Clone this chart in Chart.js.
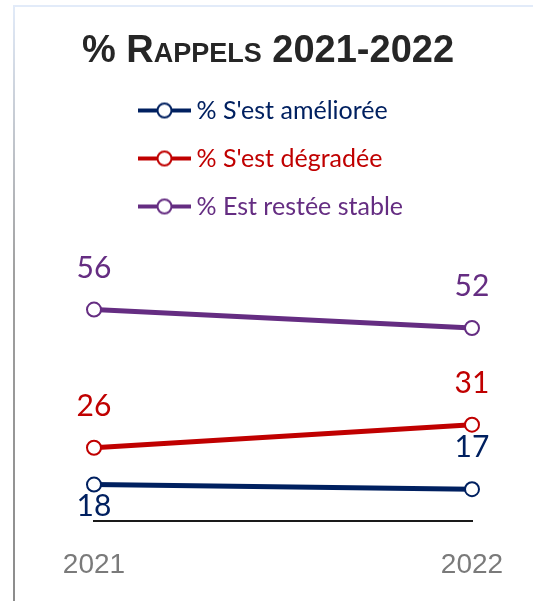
<!DOCTYPE html>
<html>
<head>
<meta charset="utf-8">
<script src="https://cdn.jsdelivr.net/npm/chart.js@4.4.1/dist/chart.umd.min.js"></script>
<style>
body { margin: 0; background: #fff; }
#cadre { position: relative; width: 533px; height: 601px; overflow: hidden; }
#cadre canvas { position: absolute; left: 0; top: 0; }
#bord { position: absolute; left: 13px; top: 5px; right: 0; bottom: 0; border-top: 2px solid #e2ebf9; }
#bord:before { content: ''; position: absolute; left: 0; top: -2px; width: 2px; bottom: 0; background: linear-gradient(#e2ebf9, #a0a0a0 45%, #8c8c8c); }
#titre { position: absolute; left: 0; top: 30px; width: 536px; text-align: center; font: bold 38px 'Liberation Sans', Arial, sans-serif; font-variant: small-caps; line-height: 38px; color: #262626; }
</style>
</head>
<body>
<div id="cadre">
    <canvas id="graphique" width="533" height="620"></canvas>
    <div id="bord"></div>
    <div id="titre">% Rappels 2021-2022</div>
</div>
<script>
// Donnees
var annees = ['2021', '2022'];
var ameliore = [18, 17];
var degrade = [26, 31];
var stable = [56, 52];
var nomsSeries = ["% S'est améliorée", "% S'est dégradée", "% Est restée stable"];
var couleurs = ['#002060', '#C00000', '#652D82'];

// Petit dessin ligne + rond pour la legende
function marqueur(couleur) {
    var c = document.createElement('canvas');
    c.width = 81;
    c.height = 20;
    var g = c.getContext('2d');
    g.strokeStyle = couleur;
    g.lineWidth = 4;
    g.beginPath();
    g.moveTo(28, 10);
    g.lineTo(81, 10);
    g.stroke();
    g.beginPath();
    g.arc(54.5, 10, 7, 0, Math.PI * 2);
    g.fillStyle = '#fff';
    g.fill();
    g.lineWidth = 2;
    g.stroke();
    return c;
}

// Valeurs au-dessus / au-dessous des points
var etiquettes = {
    id: 'etiquettes',
    afterDatasetsDraw: function (chart) {
        var ctx = chart.ctx;
        ctx.save();
        ctx.font = '30px Lato';
        ctx.textAlign = 'center';
        ctx.textBaseline = 'alphabetic';
        chart.data.datasets.forEach(function (ds, i) {
            ctx.fillStyle = ds.borderColor;
            chart.getDatasetMeta(i).data.forEach(function (pt, j) {
                var dy = (ds.dessous && ds.dessous[j]) ? 31 : -32;
                ctx.fillText(ds.data[j], pt.x, pt.y + dy);
            });
        });
        ctx.restore();
    }
};

var series = [ameliore, degrade, stable];
var datasets = series.map(function (valeurs, i) {
    return {
        label: nomsSeries[i],
        data: valeurs,
        borderColor: couleurs[i],
        backgroundColor: '#fff',
        borderWidth: 5,
        pointRadius: 7,
        pointBorderWidth: 2,
        pointBackgroundColor: '#fff',
        pointBorderColor: couleurs[i],
        tension: 0,
        dessous: i === 0 ? [true, false] : null
    };
});

new Chart(document.getElementById('graphique'), {
    type: 'line',
    data: { labels: annees, datasets: datasets },
    plugins: [etiquettes],
    options: {
        responsive: false,
        animation: false,
        layout: { padding: { top: 75, left: 94, right: 61, bottom: 11 } },
        plugins: {
            tooltip: { enabled: false },
            legend: {
                position: 'top',
                align: 'start',
                fullSize: false,
                labels: {
                    usePointStyle: true,
                    pointStyleWidth: 67,
                    padding: 23,
                    font: { family: 'Lato', size: 25 },
                    generateLabels: function (chart) {
                        return chart.data.datasets.map(function (ds, i) {
                            return {
                                text: ds.label,
                                fontColor: ds.borderColor,
                                pointStyle: marqueur(ds.borderColor),
                                lineWidth: 0,
                                hidden: false,
                                datasetIndex: i
                            };
                        });
                    }
                }
            }
        },
        scales: {
            x: {
                grid: { display: false, drawTicks: false },
                border: { display: true, color: '#1a1a1a', width: 2 },
                ticks: {
                    color: '#7a7a7a',
                    padding: 27,
                    font: { family: "'Liberation Sans', Arial", size: 28 }
                }
            },
            y: { display: false, min: 10, max: 73.5 }
        }
    }
});
</script>
</body>
</html>
